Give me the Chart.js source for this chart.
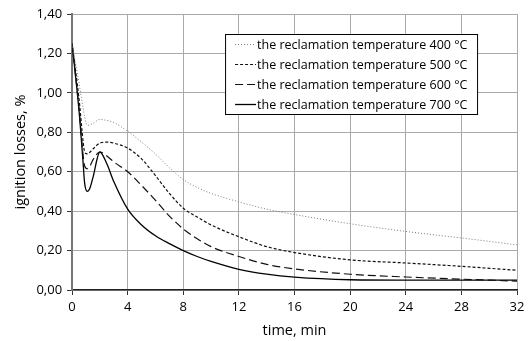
<!DOCTYPE html>
<html>
<head>
<meta charset="utf-8">
<script src="https://cdn.jsdelivr.net/npm/chart.js@4.4.1/dist/chart.umd.min.js"></script>
<style>
  html, body { margin: 0; padding: 0; background: #fff; }
  #wrap { width: 529px; height: 341px; }
</style>
</head>
<body>
<div id="wrap"><canvas id="chartCanvas" width="529" height="341"></canvas></div>
<script>
// time, min
const times = [0, 0.5, 0.8, 0.9, 1.1, 1.3, 1.5, 2, 2.5, 3, 4, 5, 6, 7, 8, 9, 10, 12, 14, 16, 20, 24, 28, 32];

// ignition losses, %
const loss400 = [1.25, 1.05, 0.92, 0.88, 0.835, 0.838, 0.845, 0.865, 0.86, 0.85, 0.805, 0.75, 0.69, 0.62, 0.56, 0.52, 0.49, 0.447, 0.41, 0.383, 0.336, 0.297, 0.264, 0.229];
const loss500 = [1.25, 0.97, 0.75, 0.70, 0.69, 0.70, 0.715, 0.745, 0.75, 0.745, 0.72, 0.665, 0.58, 0.49, 0.415, 0.37, 0.33, 0.27, 0.22, 0.19, 0.153, 0.137, 0.12, 0.10];
const loss600 = [1.25, 0.92, 0.68, 0.63, 0.615, 0.63, 0.66, 0.70, 0.68, 0.65, 0.60, 0.53, 0.455, 0.375, 0.31, 0.26, 0.22, 0.17, 0.13, 0.107, 0.08, 0.066, 0.055, 0.045];
const loss700 = [1.25, 0.91, 0.64, 0.545, 0.50, 0.52, 0.57, 0.70, 0.64, 0.55, 0.41, 0.33, 0.275, 0.235, 0.20, 0.17, 0.145, 0.105, 0.08, 0.065, 0.052, 0.05, 0.05, 0.05];

const seriesLabels = [
    'the reclamation temperature 400 °C',
    'the reclamation temperature 500 °C',
    'the reclamation temperature 600 °C',
    'the reclamation temperature 700 °C'
];

const xTicks = [0, 4, 8, 12, 16, 20, 24, 28, 32];
const yTicks = [0, 0.2, 0.4, 0.6, 0.8, 1.0, 1.2, 1.4];

const FONT = "'Open Sans', 'DejaVu Sans', sans-serif";

function points(values) {
    return times.map((t, i) => ({ x: t, y: values[i] }));
}

const styles = [
    { color: '#7a7a7a', dash: [1, 2], width: 1 },
    { color: '#111', dash: [3, 2], width: 1.2 },
    { color: '#111', dash: [8, 4], width: 1.2 },
    { color: '#000', dash: [], width: 1.3 }
];

const allValues = [loss400, loss500, loss600, loss700];

// legend with a border box, drawn inside the plot
const boxLegend = {
    id: 'boxLegend',
    afterDatasetsDraw(chart) {
        const ctx = chart.ctx;
        const a = chart.chartArea;
        const left = a.left + 153;
        const top = a.top + 20;
        const w = 252;
        const h = 80;
        ctx.save();
        ctx.fillStyle = '#fff';
        ctx.fillRect(left, top, w, h);
        ctx.strokeStyle = '#000';
        ctx.lineWidth = 1;
        ctx.setLineDash([]);
        ctx.strokeRect(left + 0.5, top + 0.5, w, h);
        ctx.font = '12.5px ' + FONT;
        ctx.textBaseline = 'middle';
        chart.data.datasets.forEach((ds, i) => {
            const y = top + 10.5 + i * 20;
            ctx.beginPath();
            ctx.strokeStyle = ds.borderColor;
            ctx.lineWidth = ds.borderWidth;
            ctx.setLineDash(ds.borderDash);
            ctx.moveTo(left + 10, y);
            ctx.lineTo(left + 31, y);
            ctx.stroke();
            ctx.fillStyle = '#000';
            ctx.fillText(ds.label, left + 32, y + 0.5);
        });
        ctx.restore();
    }
};

new Chart(document.getElementById('chartCanvas').getContext('2d'), {
    type: 'line',
    data: {
        datasets: allValues.map((vals, i) => ({
            label: seriesLabels[i],
            data: points(vals),
            borderColor: styles[i].color,
            borderDash: styles[i].dash,
            borderWidth: styles[i].width,
            pointRadius: 0,
            fill: false,
            cubicInterpolationMode: 'monotone'
        }))
    },
    options: {
        responsive: false,
        animation: false,
        layout: { padding: { left: 12, right: 12, top: 14, bottom: 1 } },
        plugins: {
            legend: { display: false },
            tooltip: { enabled: false }
        },
        scales: {
            x: {
                type: 'linear',
                min: 0,
                max: 32,
                afterBuildTicks: (s) => { s.ticks = xTicks.map(v => ({ value: v })); },
                ticks: {
                    color: '#000',
                    font: { family: FONT, size: 13 },
                    padding: 4,
                    maxRotation: 0
                },
                grid: { color: '#aaaaaa', lineWidth: 1, tickColor: '#333', tickLength: 5 },
                border: { color: '#222', width: 1.5 },
                title: {
                    display: true,
                    text: 'time, min',
                    color: '#000',
                    font: { family: FONT, size: 14.5 },
                    padding: { top: 4, bottom: 0 }
                }
            },
            y: {
                min: 0,
                max: 1.4,
                afterBuildTicks: (s) => { s.ticks = yTicks.map(v => ({ value: v })); },
                ticks: {
                    color: '#000',
                    font: { family: FONT, size: 13 },
                    padding: 5,
                    callback: (v) => v.toFixed(2).replace('.', ',')
                },
                grid: { color: '#aaaaaa', lineWidth: 1, tickColor: '#333', tickLength: 5 },
                border: { color: '#777', width: 2 },
                title: {
                    display: true,
                    text: 'ignition losses, %',
                    color: '#000',
                    font: { family: FONT, size: 14.5 },
                    padding: { top: 0, bottom: 2 }
                }
            }
        }
    },
    plugins: [boxLegend]
});
</script>
</body>
</html>
